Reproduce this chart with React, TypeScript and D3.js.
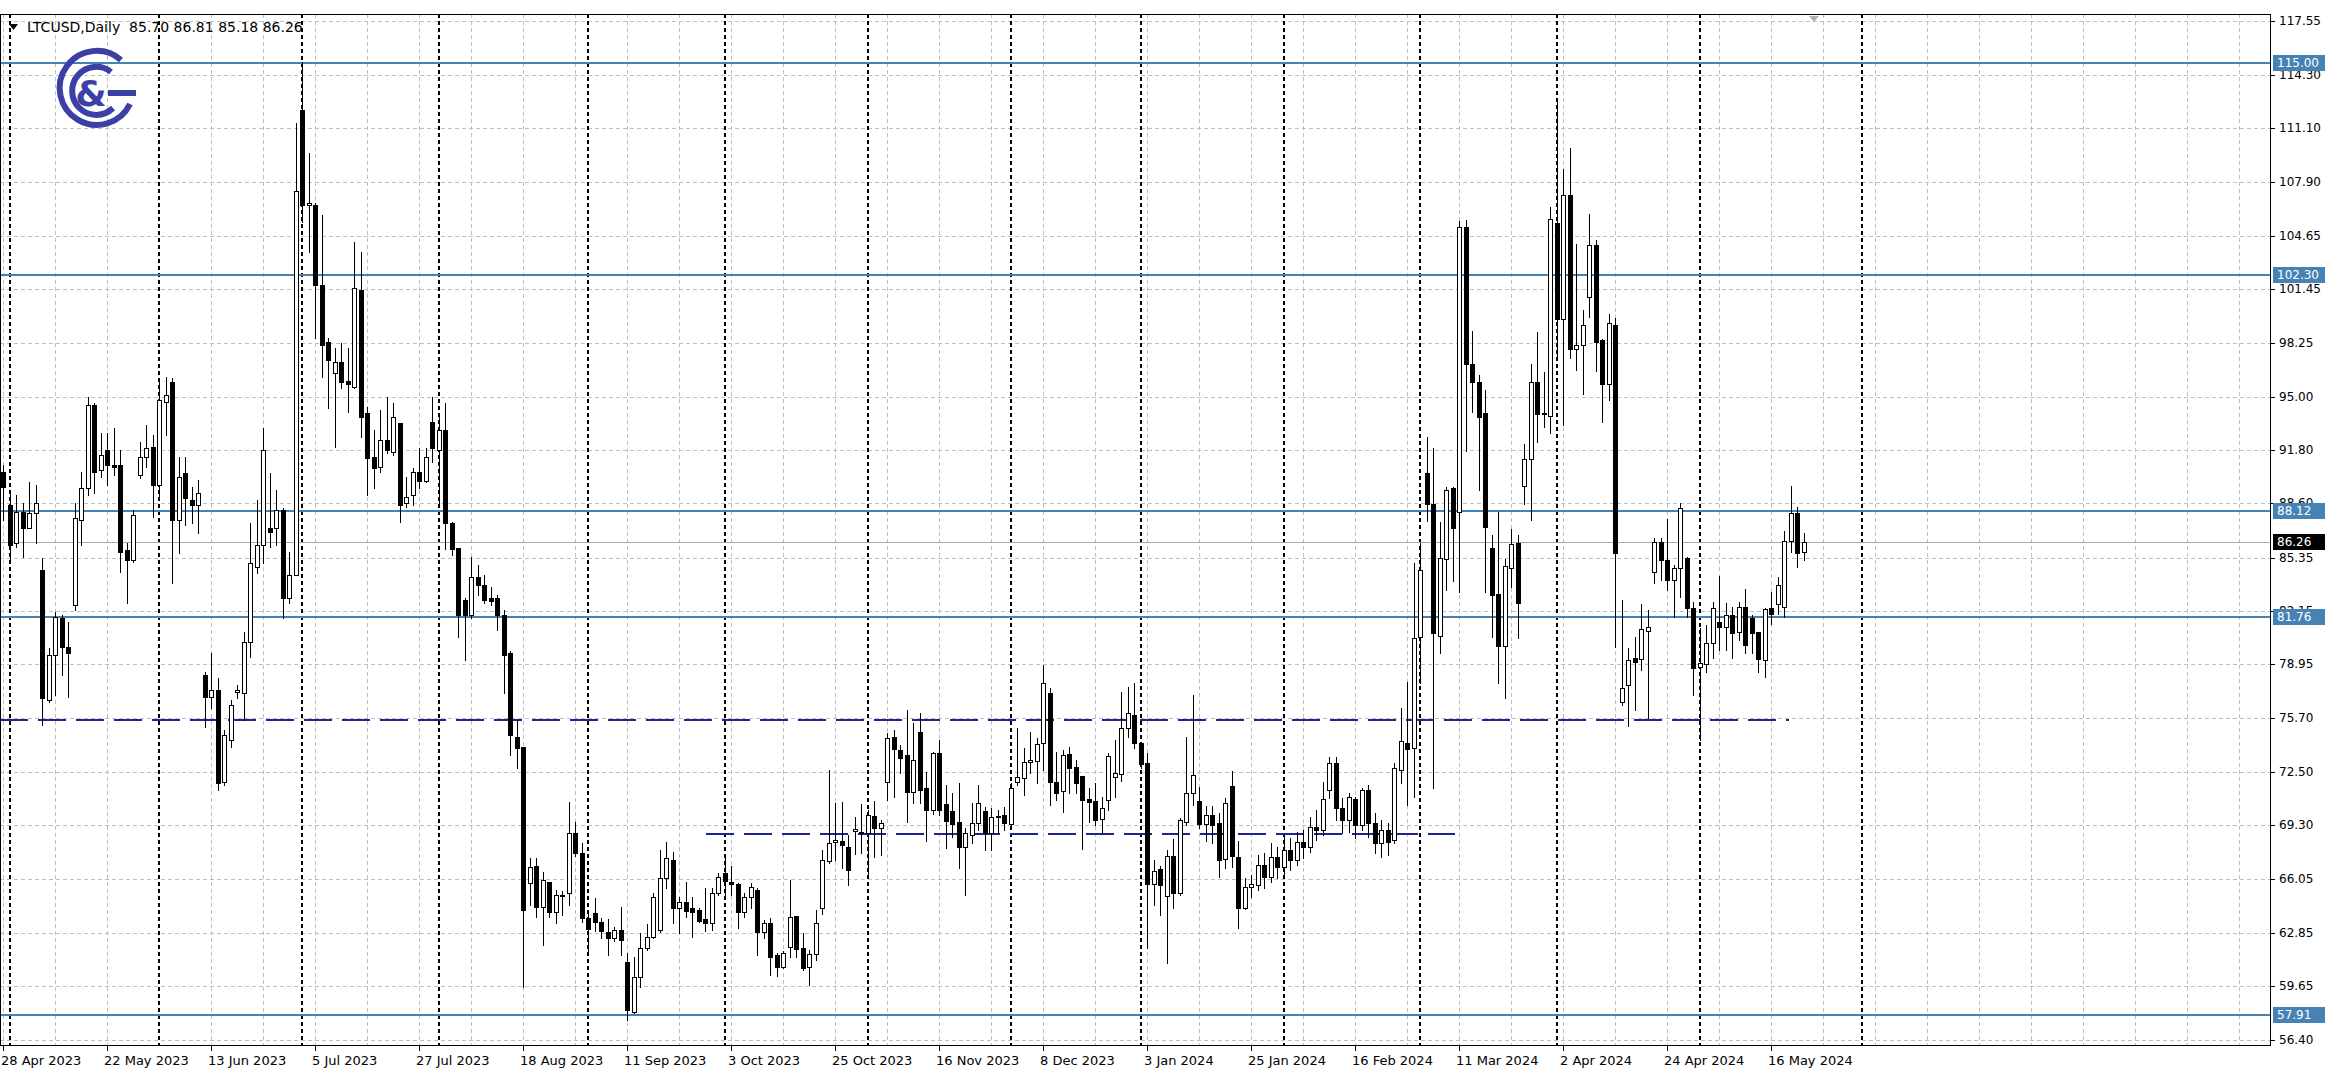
import * as d3 from 'd3';

const WIDTH = 2335;
const HEIGHT = 1089;
const PLOT_RIGHT = 2270;
const PLOT_TOP = 14;
const PLOT_BOTTOM = 1045;

const SYMBOL = 'LTCUSD,Daily';
const FIRST_DAY = '2023-04-28';
const HOLIDAYS = ['2023-12-25', '2024-01-01'];
const TOTAL_SLOTS = 350;

const TIME_LABELS = [
  '28 Apr 2023', '22 May 2023', '13 Jun 2023', '5 Jul 2023', '27 Jul 2023', '18 Aug 2023',
  '11 Sep 2023', '3 Oct 2023', '25 Oct 2023', '16 Nov 2023', '8 Dec 2023', '3 Jan 2024',
  '25 Jan 2024', '16 Feb 2024', '11 Mar 2024', '2 Apr 2024', '24 Apr 2024', '16 May 2024',
];

const PRICE_LABELS = [
  '117.55', '114.30', '111.10', '107.90', '104.65', '101.45', '98.25', '95.00', '91.80', '88.60',
  '85.35', '82.15', '78.95', '75.70', '72.50', '69.30', '66.05', '62.85', '59.65', '56.40',
];

// horizontal levels drawn by the analyst
const LEVELS = [115.0, 102.3, 88.12, 81.76, 57.91];

// dashed support lines: price, first bar, last bar
const SUPPORTS: [number, number, number][] = [
  [75.62, -0.5, 274.7],
  [68.78, 108.2, 223.4],
];

// daily bars: open, high, low, close
const CANDLES: [number, number, number, number][] = [
  [90.5, 90.9, 87.6, 89.6], [88.5, 89.3, 85.0, 86.1], [86.2, 89.1, 86.0, 88.1], [88.1, 88.6, 85.4, 87.1],
  [87.1, 89.9, 87.1, 88.0], [88.0, 89.7, 86.2, 88.6], [84.6, 85.3, 75.3, 76.9], [76.8, 79.9, 76.7, 79.5],
  [79.5, 82.1, 77.1, 81.8], [81.7, 81.9, 78.3, 80.0], [80.0, 81.5, 77.0, 79.6], [82.5, 88.6, 82.2, 87.7],
  [87.6, 90.5, 86.1, 89.5], [89.5, 95.0, 89.1, 94.5], [94.5, 94.6, 89.2, 90.5], [90.6, 92.8, 90.2, 91.5],
  [91.8, 92.8, 89.7, 90.9], [90.9, 93.1, 90.3, 90.8], [90.9, 91.8, 84.5, 85.7], [85.8, 86.2, 82.6, 85.2],
  [85.2, 88.2, 85.1, 87.9], [90.3, 92.3, 90.1, 91.4], [91.4, 93.3, 90.8, 91.9], [92.0, 92.7, 87.8, 89.7],
  [89.7, 95.9, 89.0, 94.8], [94.7, 96.2, 92.7, 95.1], [95.9, 96.1, 83.8, 87.6], [87.6, 91.4, 85.6, 90.2],
  [90.4, 91.4, 87.3, 88.9], [88.8, 89.6, 87.4, 88.5], [88.5, 90.0, 86.8, 89.2], [78.3, 78.5, 75.2, 77.0],
  // 32
  [77.0, 79.6, 76.3, 77.4], [77.4, 78.1, 71.4, 71.8], [71.9, 75.0, 71.7, 74.7], [74.4, 76.8, 74.0, 76.5],
  [77.3, 77.7, 76.9, 77.4], [77.2, 80.9, 75.6, 80.3], [80.3, 87.4, 79.4, 85.0], [84.8, 88.8, 84.4, 86.1],
  [86.1, 93.1, 85.0, 91.8], [87.1, 90.4, 86.0, 86.9], [87.1, 89.4, 86.1, 88.2], [88.2, 88.3, 81.7, 82.9],
  [82.9, 85.7, 82.6, 84.3], [84.3, 111.4, 84.3, 107.35], [112.2, 115.1, 105.5, 106.5], [106.5, 109.6, 103.7, 106.6],
  [106.5, 106.6, 98.5, 101.7], [101.7, 105.9, 96.2, 98.1], [98.3, 98.5, 94.3, 97.2], [96.4, 97.9, 92.0, 97.1],
  [97.1, 98.2, 95.5, 95.9], [95.95, 97.9, 94.1, 95.75], [95.6, 104.3, 95.5, 101.5], [101.4, 103.7, 92.6, 93.8],
  [94.0, 94.4, 89.1, 91.3], [91.4, 93.0, 89.5, 90.7], [90.8, 94.2, 90.5, 92.4], [92.4, 95.0, 91.6, 91.8],
  [91.7, 94.6, 91.5, 93.8], [93.4, 93.4, 87.5, 88.5], [88.6, 90.2, 88.4, 89.0], [89.1, 90.75, 88.5, 90.5],
  // 64
  [90.5, 91.95, 89.5, 89.95], [89.95, 91.95, 89.9, 91.4], [93.5, 95.0, 91.1, 91.9], [91.8, 94.0, 88.5, 93.0],
  [93.0, 94.6, 85.85, 87.4], [87.4, 87.5, 85.5, 85.85], [85.9, 85.95, 80.6, 81.9], [82.8, 82.9, 79.2, 81.9],
  [81.9, 85.4, 81.7, 84.2], [84.2, 84.9, 83.1, 83.7], [83.7, 84.3, 82.6, 82.8], [82.9, 83.6, 82.5, 82.75],
  [82.9, 83.1, 81.0, 81.9], [81.9, 82.2, 77.2, 79.5], [79.6, 79.75, 73.5, 74.7], [74.6, 75.6, 72.7, 73.9],
  [74.0, 74.0, 59.6, 64.2], [65.8, 67.35, 64.5, 66.8], [66.85, 67.35, 63.8, 64.4], [64.4, 66.5, 62.1, 66.0],
  [65.9, 65.9, 63.8, 64.1], [64.1, 65.4, 63.4, 65.1], [65.05, 65.35, 63.9, 65.1], [65.2, 70.7, 64.5, 68.8],
  [68.8, 69.5, 67.45, 67.6], [67.6, 68.2, 63.5, 63.7], [63.7, 64.2, 61.5, 63.05], [64.05, 64.95, 62.95, 63.5],
  [63.5, 63.7, 62.5, 62.95], [62.9, 63.65, 61.5, 62.5], [62.5, 63.2, 62.35, 63.0], [63.0, 64.4, 61.5, 62.4],
  // 96
  [61.1, 61.6, 57.6, 58.2], [58.1, 61.4, 58.0, 60.2], [60.2, 62.8, 59.6, 61.95], [61.9, 63.35, 61.8, 62.6],
  [62.6, 65.2, 62.5, 65.0], [63.0, 67.8, 62.9, 66.15], [66.15, 68.3, 65.5, 67.35], [67.2, 67.7, 63.4, 64.35],
  [64.35, 65.0, 62.8, 64.7], [64.7, 65.9, 63.8, 64.15], [64.3, 65.0, 62.6, 64.1], [64.2, 64.3, 63.5, 63.55],
  [63.65, 65.5, 62.95, 63.4], [63.4, 65.5, 63.0, 65.2], [65.2, 66.4, 65.1, 66.2], [66.4, 67.3, 65.0, 65.95],
  [65.9, 66.85, 65.1, 65.75], [65.75, 65.85, 63.1, 64.1], [64.1, 65.2, 63.8, 65.0], [65.0, 65.85, 64.35, 65.6],
  [65.4, 65.5, 61.5, 62.9], [62.9, 63.6, 62.5, 63.4], [63.4, 63.75, 60.3, 61.4], [61.5, 61.6, 60.25, 60.8],
  [60.8, 61.75, 60.7, 61.65], [62.0, 66.0, 61.4, 63.8], [63.85, 63.85, 61.4, 61.85], [61.9, 62.8, 60.6, 60.7],
  [60.8, 61.8, 59.7, 61.55], [61.55, 64.2, 61.2, 63.4], [64.35, 67.8, 63.95, 67.2], [67.15, 72.6, 67.0, 68.2],
  // 128
  [68.3, 70.6, 67.2, 68.4], [68.35, 70.7, 66.7, 68.1], [68.0, 68.7, 65.7, 66.6], [68.95, 69.8, 67.55, 69.05],
  [68.8, 70.55, 67.6, 68.9], [68.8, 70.2, 66.2, 69.9], [69.85, 70.75, 67.4, 69.15], [69.15, 69.6, 67.5, 69.4],
  [71.9, 74.8, 70.8, 74.55], [74.6, 75.0, 71.0, 73.85], [73.8, 74.1, 72.4, 73.35], [73.5, 76.2, 69.5, 71.3],
  [71.3, 75.4, 70.6, 73.2], [74.9, 76.0, 70.6, 71.4], [71.55, 72.5, 68.35, 70.2], [70.2, 73.7, 69.95, 73.6],
  [73.6, 74.4, 69.9, 70.2], [70.55, 71.7, 67.95, 69.55], [70.15, 71.2, 68.6, 69.35], [69.5, 71.8, 66.7, 68.0],
  [68.0, 69.1, 65.1, 68.8], [68.7, 70.6, 68.2, 69.4], [69.4, 71.7, 69.0, 70.6], [70.15, 70.4, 67.8, 68.8],
  [68.8, 70.3, 67.8, 69.8], [69.8, 70.2, 68.8, 69.85], [69.9, 70.4, 69.0, 69.4], [69.35, 71.8, 69.2, 71.55],
  [71.9, 75.1, 71.7, 72.2], [72.1, 73.9, 71.1, 73.1], [73.1, 74.9, 72.4, 73.2], [73.15, 74.5, 71.8, 74.15],
  // 160
  [74.2, 78.9, 72.6, 77.8], [77.2, 77.5, 70.5, 71.9], [71.9, 73.7, 70.8, 71.25], [71.35, 73.8, 70.1, 73.5],
  [73.55, 74.0, 71.2, 72.75], [72.8, 73.2, 71.2, 71.8], [72.25, 72.25, 67.85, 70.8], [70.85, 71.55, 69.5, 70.7],
  [70.75, 71.85, 69.3, 69.6], [69.65, 71.0, 68.8, 70.3], [70.8, 73.6, 70.2, 73.45], [72.2, 74.4, 71.0, 72.4],
  [72.35, 77.3, 71.95, 75.1], [75.1, 77.6, 74.6, 76.0], [75.9, 77.8, 73.9, 74.25], [74.25, 74.3, 72.7, 72.95],
  [73.0, 73.65, 61.9, 65.75], [65.75, 67.2, 64.5, 66.55], [66.65, 66.85, 63.9, 65.7], [65.05, 67.8, 61.05, 67.45],
  [67.45, 68.45, 64.35, 65.25], [65.2, 69.7, 65.1, 69.6], [69.5, 74.6, 69.3, 71.25], [71.2, 77.1, 70.5, 72.3],
  [70.75, 71.6, 69.1, 69.35], [69.35, 70.45, 68.35, 69.9], [69.9, 70.45, 68.25, 69.3], [69.45, 70.0, 66.2, 67.2],
  [67.25, 70.9, 66.75, 70.65], [71.65, 72.55, 66.8, 67.45], [67.4, 68.35, 63.1, 64.35], [64.35, 66.15, 64.25, 65.6],
  // 192
  [65.6, 66.3, 65.0, 65.75], [65.7, 67.5, 65.4, 66.9], [66.9, 67.6, 65.5, 66.2], [66.2, 68.2, 65.9, 67.4],
  [67.4, 68.0, 66.1, 66.8], [66.8, 68.6, 66.3, 67.8], [67.8, 68.5, 66.6, 67.2], [67.2, 68.9, 66.9, 68.3],
  [68.3, 69.0, 67.3, 68.0], [68.0, 69.8, 67.7, 69.2], [69.2, 70.2, 68.4, 69.0], [69.0, 71.9, 68.7, 70.85],
  [71.4, 73.4, 70.9, 73.05], [73.0, 73.4, 69.6, 70.3], [70.3, 70.9, 68.8, 69.6], [69.6, 71.2, 68.9, 71.0],
  [70.85, 71.0, 68.5, 69.3], [69.3, 71.55, 69.0, 71.4], [71.4, 71.7, 68.6, 69.4], [69.4, 70.0, 67.6, 68.2],
  [68.2, 69.6, 67.4, 69.0], [69.0, 69.4, 67.5, 68.3], [68.4, 73.05, 68.2, 72.7], [72.6, 76.3, 71.8, 74.37],
  [74.2, 77.9, 70.5, 73.85], [73.9, 85.0, 71.0, 80.5], [80.6, 86.25, 77.85, 84.6], [90.45, 92.6, 87.55, 88.55],
  [88.55, 91.9, 71.5, 80.85], [80.65, 87.5, 79.65, 85.3], [85.25, 89.6, 83.4, 89.4], [89.5, 89.6, 83.95, 87.1],
  // 224
  [88.1, 105.55, 83.3, 105.16], [105.16, 105.6, 91.75, 96.96], [96.96, 98.97, 94.1, 95.9], [95.9, 96.3, 89.4, 93.8],
  [94.0, 95.4, 83.3, 87.2], [85.9, 86.7, 80.6, 83.1], [83.15, 88.1, 77.8, 80.05], [80.05, 85.25, 76.9, 84.85],
  [84.7, 87.07, 83.56, 86.16], [86.2, 86.7, 80.5, 82.65], [89.67, 92.15, 88.55, 91.24], [91.24, 96.96, 87.6, 95.9],
  [95.9, 98.86, 92.28, 93.97], [93.97, 96.5, 93.2, 94.0], [93.84, 106.41, 92.8, 105.68], [105.42, 112.8, 97.2, 99.64],
  [99.64, 108.67, 93.3, 107.1], [107.1, 109.9, 97.35, 97.87], [97.87, 104.17, 96.6, 98.08], [98.08, 100.2, 95.14, 99.3],
  [101.0, 105.94, 99.8, 104.1], [104.1, 104.38, 96.52, 98.26], [98.4, 98.45, 93.5, 95.79], [95.79, 99.96, 94.8, 99.44],
  [99.3, 99.75, 79.96, 85.64], [76.66, 82.83, 76.5, 77.55], [77.7, 79.91, 75.23, 79.18], [79.3, 80.56, 76.2, 79.1],
  [79.26, 82.57, 78.6, 81.08], [80.96, 82.2, 75.7, 81.2], [84.47, 86.55, 83.8, 86.29], [86.3, 86.5, 84.0, 85.2],
  // 256
  [85.2, 87.64, 83.4, 84.0], [84.0, 84.9, 81.8, 84.7], [84.7, 88.6, 83.0, 88.3], [85.3, 85.4, 81.8, 82.3],
  [82.3, 82.7, 77.1, 78.7], [78.8, 81.1, 74.4, 79.04], [78.96, 81.3, 78.5, 80.2], [80.2, 82.7, 79.3, 82.3],
  [81.5, 84.24, 79.8, 81.16], [81.16, 82.64, 79.8, 81.9], [81.9, 82.36, 79.3, 80.8], [80.9, 82.7, 80.4, 82.4],
  [82.4, 83.44, 79.6, 80.1], [81.7, 81.9, 79.6, 80.84], [80.9, 80.9, 78.5, 79.24], [79.2, 82.3, 78.2, 82.24],
  [82.3, 83.3, 81.36, 81.96], [82.56, 84.16, 81.96, 83.7], [82.4, 86.96, 81.8, 86.36], [86.36, 89.64, 85.7, 88.04],
  [88.04, 88.36, 84.8, 85.64], [85.7, 86.81, 85.18, 86.26],
];

const FONT = '"DejaVu Sans", Verdana, sans-serif';
const LEVEL_COLOR = '#4682b4';
const SUPPORT_COLOR = '#1f2590';
const GRID_COLOR = '#c0c0c0';
const LOGO_COLOR = '#3b3fa6';

// weekday bars for the history, plain calendar days for the empty area on the right
function barDays(start: string, bars: number, count: number) {
  const parse = d3.utcParse('%Y-%m-%d');
  const key = d3.utcFormat('%Y-%m-%d');
  const days: Date[] = [];
  let d = parse(start)!;
  while (days.length < count) {
    const wd = d.getUTCDay();
    const trading = wd !== 0 && wd !== 6 && !HOLIDAYS.includes(key(d));
    if (days.length >= bars || trading) days.push(d);
    d = d3.utcDay.offset(d, 1);
  }
  return days;
}

export default function App() {
  const days = barDays(FIRST_DAY, CANDLES.length, TOTAL_SLOTS);
  const labelFmt = d3.utcFormat('%-d %b %Y');

  const x = d3.scaleLinear().domain([0, 1]).range([3, 9.5]);
  const y = d3.scaleLinear().domain([56.4, 117.55]).range([1040, 21]);

  const last = CANDLES[CANDLES.length - 1];
  const px = (v: number) => Math.round(v) + 0.5;

  // month separators (first bar of each month), only the first one past the data
  const allSeps = d3.range(1, TOTAL_SLOTS).filter((i) => days[i].getUTCMonth() !== days[i - 1].getUTCMonth());
  const separators = allSeps.filter((i, k) => i < CANDLES.length || allSeps[k - 1] < CANDLES.length);

  const gridBars = d3.range(0, TOTAL_SLOTS, 8).filter((i) => x(i) < PLOT_RIGHT - 4);

  const timeTicks = TIME_LABELS.map((label) => ({
    label,
    i: days.findIndex((d) => labelFmt(d) === label),
  }));

  const header = `${SYMBOL}  ${last.map((v) => v.toFixed(2)).join(' ')}`;

  return (
    <div style={{ position: 'absolute', left: 0, top: 0, background: '#fff' }}>
      <svg width={WIDTH} height={HEIGHT} viewBox={`0 0 ${WIDTH} ${HEIGHT}`} style={{ display: 'block' }}>
        <rect width={WIDTH} height={HEIGHT} fill="#fff" />

        {/* grid */}
        <g stroke={GRID_COLOR} strokeWidth={1} strokeDasharray="4 3" shapeRendering="crispEdges">
          {PRICE_LABELS.map((t) => (
            <line key={t} x1={0} x2={PLOT_RIGHT} y1={px(y(+t))} y2={px(y(+t))} />
          ))}
          {gridBars.map((i) => (
            <line key={i} x1={px(x(i))} x2={px(x(i))} y1={PLOT_TOP} y2={PLOT_BOTTOM} />
          ))}
        </g>

        {/* month separators */}
        <g stroke="#000" strokeWidth={2} strokeDasharray="4 3" shapeRendering="crispEdges">
          {separators.map((i) => (
            <line key={i} x1={Math.round(x(i))} x2={Math.round(x(i))} y1={PLOT_TOP} y2={PLOT_BOTTOM} />
          ))}
        </g>

        {/* last price line */}
        <line x1={0} x2={PLOT_RIGHT} y1={px(y(last[3]))} y2={px(y(last[3]))} stroke="#a8a8a8" strokeWidth={1} shapeRendering="crispEdges" />

        {/* analyst levels */}
        <g stroke={LEVEL_COLOR} strokeWidth={2} shapeRendering="crispEdges">
          {LEVELS.map((v) => (
            <line key={v} x1={0} x2={PLOT_RIGHT} y1={Math.round(y(v))} y2={Math.round(y(v))} />
          ))}
        </g>
        <g stroke={SUPPORT_COLOR} strokeWidth={2} strokeDasharray="28 10" shapeRendering="crispEdges">
          {SUPPORTS.map(([v, a, b]) => (
            <line key={v} x1={Math.max(0, x(a))} x2={x(b)} y1={Math.round(y(v))} y2={Math.round(y(v))} />
          ))}
        </g>

        {/* candles */}
        <g shapeRendering="crispEdges">
          {CANDLES.map(([o, h, l, c], i) => {
            const cx = Math.round(x(i));
            const top = Math.round(y(Math.max(o, c)));
            const bot = Math.round(y(Math.min(o, c)));
            const bull = c >= o;
            return (
              <g key={i}>
                <line x1={cx + 0.5} x2={cx + 0.5} y1={Math.round(y(h))} y2={Math.round(y(l)) + 1} stroke="#000" strokeWidth={1} />
                {bot - top < 1 ? (
                  <line x1={cx - 2} x2={cx + 3} y1={top + 0.5} y2={top + 0.5} stroke="#000" strokeWidth={1} />
                ) : (
                  <rect x={cx - 1.5} y={top + 0.5} width={4} height={bot - top} fill={bull ? '#fff' : '#000'} stroke="#000" strokeWidth={1} />
                )}
              </g>
            );
          })}
        </g>

        {/* shift marker */}
        <path d={`M${x(278.6) - 5},${PLOT_TOP + 2} h10 l-5,6 z`} fill="#b0b0b0" />

        {/* frame and axes */}
        <g stroke="#000" strokeWidth={1} shapeRendering="crispEdges" fill="none">
          <line x1={0.5} x2={0.5} y1={PLOT_TOP} y2={PLOT_BOTTOM} />
          <line x1={0} x2={PLOT_RIGHT} y1={PLOT_TOP + 0.5} y2={PLOT_TOP + 0.5} />
          <line x1={PLOT_RIGHT + 0.5} x2={PLOT_RIGHT + 0.5} y1={PLOT_TOP} y2={PLOT_BOTTOM + 1} />
          <line x1={0} x2={PLOT_RIGHT + 1} y1={PLOT_BOTTOM + 0.5} y2={PLOT_BOTTOM + 0.5} />
          {PRICE_LABELS.map((t) => (
            <line key={t} x1={PLOT_RIGHT} x2={PLOT_RIGHT + 5} y1={px(y(+t))} y2={px(y(+t))} />
          ))}
          {timeTicks.map(({ label, i }) => (
            <line key={label} x1={px(x(i))} x2={px(x(i))} y1={PLOT_BOTTOM} y2={PLOT_BOTTOM + 6} />
          ))}
        </g>

        {/* price labels (level boxes are drawn over them, as in the terminal) */}
        <g fontFamily={FONT} fontSize={12} fill="#000">
          {PRICE_LABELS.map((t) => (
            <text key={t} x={PLOT_RIGHT + 9} y={y(+t)} dominantBaseline="central">
              {t}
            </text>
          ))}
        </g>
        <g fontFamily={FONT} fontSize={12}>
          {LEVELS.map((v) => (
            <g key={v}>
              <rect x={PLOT_RIGHT + 3} y={Math.round(y(v)) - 8} width={52} height={16} fill={LEVEL_COLOR} />
              <text x={PLOT_RIGHT + 7} y={Math.round(y(v))} dominantBaseline="central" fill="#fff">
                {v.toFixed(2)}
              </text>
            </g>
          ))}
          <rect x={PLOT_RIGHT + 3} y={Math.round(y(last[3])) - 8} width={52} height={16} fill="#000" />
          <text x={PLOT_RIGHT + 7} y={Math.round(y(last[3]))} dominantBaseline="central" fill="#fff">
            {last[3].toFixed(2)}
          </text>
        </g>

        {/* time labels */}
        <g fontFamily={FONT} fontSize={13} fill="#000">
          {timeTicks.map(({ label, i }) => (
            <text key={label} x={Math.max(1, x(i) - 3)} y={PLOT_BOTTOM + 20}>
              {label}
            </text>
          ))}
        </g>

        {/* header */}
        <path d="M9,24 h9 l-4.5,6 z" fill="#000" />
        <text x={27} y={32} fontFamily={FONT} fontSize={14} fill="#000" style={{ whiteSpace: 'pre' }}>
          {header}
        </text>

        {/* logo */}
        <g fill="none" stroke={LOGO_COLOR} strokeWidth={6}>
          <path d="M121,60 A37,37 0 1,0 130,104" />
          <path d="M111,72 A24,24 0 1,0 113,108" />
          <path d="M136,93 H108" />
        </g>
        <text x={91} y={106} textAnchor="middle" fontFamily={FONT} fontWeight="bold" fontSize={36} fill={LOGO_COLOR}>
          &amp;
        </text>
      </svg>
    </div>
  );
}
